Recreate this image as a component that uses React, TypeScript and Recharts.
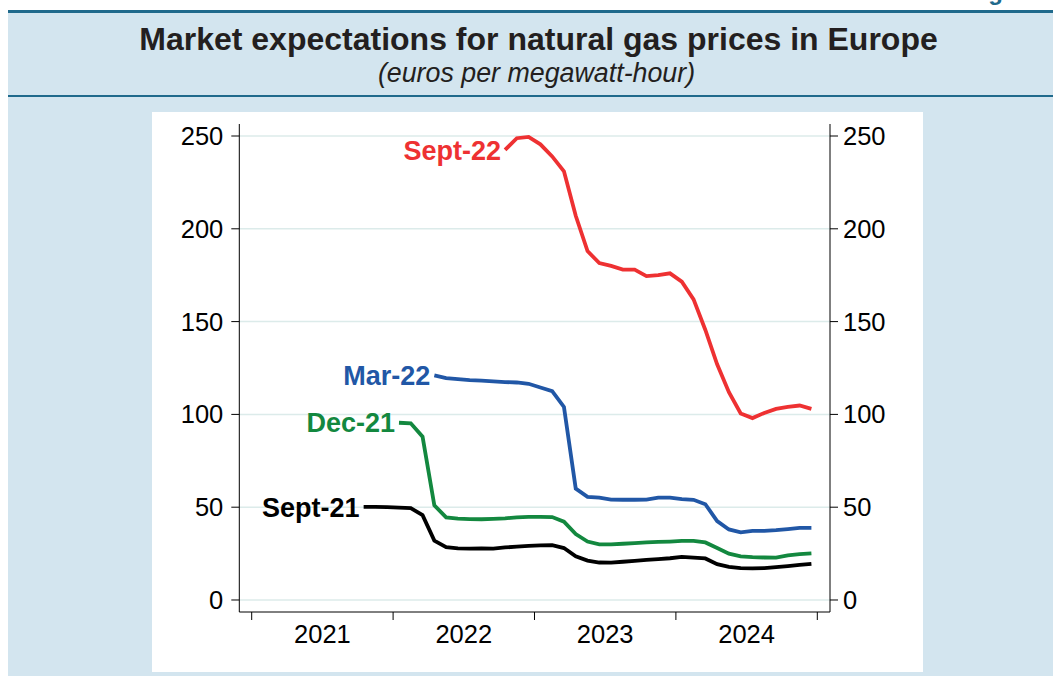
import { LineChart, Line, XAxis, YAxis, CartesianGrid } from "recharts";

// months counted from Jan 2021 (0); each point sits at mid-month
const sept21Start = 9;
const sept21 = [
  50.2, 50.2, 50.0, 49.8, 49.5, 45.7, 32.0, 28.5, 27.8, 27.7, 27.8, 27.7, 28.3,
  28.8, 29.2, 29.4, 29.5, 28.0, 23.5, 21.2, 20.2, 20.1, 20.6, 21.1, 21.6, 22.0,
  22.5, 23.2, 22.8, 22.4, 19.3, 17.9, 17.2, 17.0, 17.2, 17.7, 18.3, 18.9, 19.5,
];

const dec21Start = 12;
const dec21 = [
  95.5, 95.2, 88.0, 51.0, 44.5, 43.8, 43.6, 43.5, 43.7, 44.0, 44.5, 44.8, 44.8,
  44.7, 42.2, 35.5, 31.5, 30.0, 30.0, 30.3, 30.6, 31.0, 31.3, 31.5, 31.8, 31.9,
  31.0, 28.0, 25.0, 23.5, 23.1, 22.9, 22.8, 24.0, 24.7, 25.1,
];

const mar22Start = 15;
const mar22 = [
  121, 119.5, 119, 118.5, 118.2, 117.8, 117.4, 117.2, 116.5, 114.5, 112.5, 104,
  60, 55.6, 55.2, 54.1, 54.0, 54.0, 54.1, 55.2, 55.2, 54.3, 54.0, 51.6, 42.5, 38,
  36.4, 37.2, 37.2, 37.6, 38.2, 38.9, 38.9,
];

const sept22Start = 21;
const sept22 = [
  242.5, 248.8, 249.5, 245.5, 239, 231, 207, 188, 181.5, 180, 178, 178, 174.5,
  175, 176, 171.5, 162, 145.5, 127, 112, 100.5, 98, 100.8, 103, 104, 104.8, 103,
];

const years = ["2021", "2022", "2023", "2024"];
const yTicks = [0, 50, 100, 150, 200, 250];
const xTicks = [0, 6, 12, 18, 24, 30, 36, 42, 48];

const toRows = (start: number, values: number[]) =>
  values.map((v, i) => ({ m: start + i + 0.5, v }));

// both y axes share the same scale, so series are split between them
const series = [
  { name: "Sept-21", color: "#000000", axis: "left", data: toRows(sept21Start, sept21) },
  { name: "Dec-21", color: "#13883f", axis: "left", data: toRows(dec21Start, dec21) },
  { name: "Mar-22", color: "#2157a6", axis: "right", data: toRows(mar22Start, mar22) },
  { name: "Sept-22", color: "#ee3132", axis: "right", data: toRows(sept22Start, sept22) },
];

const XTick = ({ x, y, payload }: any) => {
  const v = payload.value;
  if (v % 12 === 0) {
    return <line x1={x} x2={x} y1={y} y2={y + 8} stroke="#000" strokeWidth={1} />;
  }
  return (
    <text x={x} y={y + 31} textAnchor="middle" fontSize={25.5} fill="#000">
      {years[(v - 6) / 12]}
    </text>
  );
};

const startLabel = (name: string, color: string) => (props: any) => {
  const { cx, cy, index } = props;
  if (index !== 0) return <g key={`d-${name}-${index}`} />;
  return (
    <text
      key={`lbl-${name}`}
      x={cx - 4}
      y={cy}
      dy="0.36em"
      textAnchor="end"
      fontSize={27}
      fontWeight="bold"
      fill={color}
    >
      {name}
    </text>
  );
};

export default function App() {
  return (
    <div
      style={{
        position: "absolute",
        left: 0,
        top: 0,
        width: 1053,
        height: 676,
        background: "#ffffff",
        overflow: "hidden",
        fontFamily: "'Liberation Sans', Arial, sans-serif",
      }}
    >
      {/* page header, cropped at the top edge as in the source */}
      <div
        style={{
          position: "absolute",
          left: 967,
          top: -22,
          fontSize: 24,
          fontWeight: "bold",
          color: "#1f6a8c",
          whiteSpace: "nowrap",
        }}
      >
        Figure
      </div>
      <div
        style={{
          position: "absolute",
          left: 8,
          top: 10,
          width: 1045,
          height: 666,
          background: "#d3e5ef",
          borderTop: "3px solid #1f6a8c",
        }}
      />
      <div
        style={{
          position: "absolute",
          left: 8,
          top: 95,
          width: 1045,
          height: 2,
          background: "#1f6a8c",
        }}
      />
      <div
        style={{
          position: "absolute",
          left: 0,
          top: 21,
          width: 1077,
          textAlign: "center",
          fontSize: 32,
          fontWeight: "bold",
          color: "#231f20",
        }}
      >
        Market expectations for natural gas prices in Europe
      </div>
      <div
        style={{
          position: "absolute",
          left: 0,
          top: 58,
          width: 1073,
          textAlign: "center",
          fontSize: 26.8,
          fontStyle: "italic",
          color: "#231f20",
        }}
      >
        (euros per megawatt-hour)
      </div>
      <div
        style={{
          position: "absolute",
          left: 152,
          top: 112,
          width: 771,
          height: 560,
          background: "#ffffff",
        }}
      />
      <div style={{ position: "absolute", left: 152, top: 112 }}>
        <LineChart
          width={771}
          height={564}
          margin={{ top: 12, right: 0, bottom: 0, left: 0 }}
        >
          <CartesianGrid
            vertical={false}
            stroke="#dcebea"
            strokeWidth={1.5}
            horizontalValues={yTicks}
            yAxisId="left"
          />
          <XAxis
            dataKey="m"
            type="number"
            domain={[-1.052, 49.078]}
            ticks={xTicks}
            interval={0}
            height={64}
            axisLine={{ stroke: "#000" }}
            tickLine={false}
            tickSize={0}
            tickMargin={0}
            tick={<XTick />}
          />
          <YAxis
            yAxisId="left"
            orientation="left"
            type="number"
            domain={[-6.47, 256.47]}
            ticks={yTicks}
            interval={0}
            width={87.3}
            axisLine={{ stroke: "#000" }}
            tickLine={{ stroke: "#000" }}
            tickSize={8}
            tickMargin={8}
            tick={{ fill: "#000", fontSize: 25.5 }}
          />
          <YAxis
            yAxisId="right"
            orientation="right"
            type="number"
            domain={[-6.47, 256.47]}
            ticks={yTicks}
            interval={0}
            width={93}
            axisLine={{ stroke: "#000" }}
            tickLine={{ stroke: "#000" }}
            tickSize={8}
            tickMargin={5}
            tick={{ fill: "#000", fontSize: 25.5 }}
          />
          {series.map((s) => (
            <Line
              key={s.name}
              yAxisId={s.axis}
              data={s.data}
              dataKey="v"
              type="linear"
              stroke={s.color}
              strokeWidth={3.8}
              dot={startLabel(s.name, s.color)}
              activeDot={false}
              isAnimationActive={false}
            />
          ))}
        </LineChart>
      </div>
    </div>
  );
}
